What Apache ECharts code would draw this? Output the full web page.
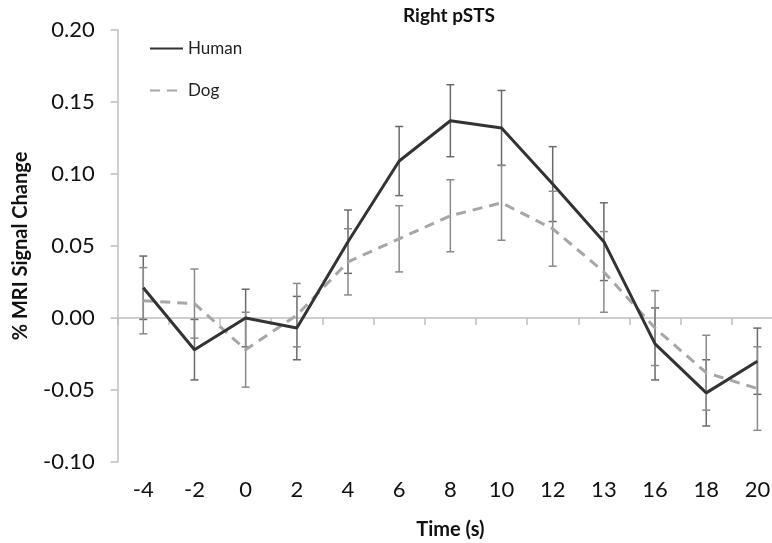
<!DOCTYPE html>
<html>
<head>
<meta charset="utf-8">
<script src="https://cdn.jsdelivr.net/npm/echarts@6/dist/echarts.min.js"></script>
<style>
html,body{margin:0;padding:0;background:#fff;}
#chart{width:772px;height:543px;}
</style>
</head>
<body>
<div id="chart"></div>
<script>
var categories = ['-4','-2','0','2','4','6','8','10','12','13','16','18','20'];
var human    = [0.021, -0.022, 0.000, -0.007, 0.053, 0.109, 0.137, 0.132, 0.093, 0.053, -0.018, -0.052, -0.030];
var humanErr = [0.022, 0.021, 0.020, 0.022, 0.022, 0.024, 0.025, 0.026, 0.026, 0.027, 0.025, 0.023, 0.023];
var dog      = [0.012, 0.010, -0.022, 0.002, 0.039, 0.055, 0.071, 0.080, 0.062, 0.032, -0.007, -0.038, -0.049];
var dogErr   = [0.023, 0.024, 0.026, 0.022, 0.023, 0.023, 0.025, 0.026, 0.026, 0.028, 0.026, 0.026, 0.029];

var FONT = 'Lato, "Open Sans", sans-serif';

function bars(vals, errs) {
  return vals.map(function (v, i) { return [i, v - errs[i], v + errs[i]]; });
}
function errRender(color) {
  return function (params, api) {
    var x = api.value(0);
    var lo = api.coord([x, api.value(1)]);
    var hi = api.coord([x, api.value(2)]);
    var w = 4;
    var st = { stroke: color, lineWidth: 1.5 };
    return {
      type: 'group',
      children: [
        { type: 'line', shape: { x1: lo[0], y1: lo[1], x2: hi[0], y2: hi[1] }, style: st },
        { type: 'line', shape: { x1: lo[0] - w, y1: lo[1], x2: lo[0] + w, y2: lo[1] }, style: st },
        { type: 'line', shape: { x1: hi[0] - w, y1: hi[1], x2: hi[0] + w, y2: hi[1] }, style: st }
      ]
    };
  };
}

var chart = echarts.init(document.getElementById('chart'));
chart.setOption({
  animation: false,
  backgroundColor: '#fff',
  title: {
    text: 'Right pSTS',
    left: 449,
    textAlign: 'center',
    top: 6,
    padding: 0,
    textStyle: { fontFamily: FONT, fontWeight: 'bold', fontSize: 19, color: '#111' }
  },
  legend: {
    orient: 'vertical',
    left: 149,
    top: 40,
    padding: 0,
    itemWidth: 33,
    itemHeight: 14,
    itemGap: 25,
    itemStyle: { opacity: 0 },
    data: ['Human', 'Dog'],
    textStyle: { fontFamily: FONT, fontSize: 17, color: '#222' }
  },
  grid: { left: 117.7, right: -11, top: 30, bottom: 81, containLabel: false, outerBoundsMode: 'none' },
  xAxis: {
    type: 'category',
    data: categories,
    boundaryGap: true,
    name: 'Time (s)',
    nameLocation: 'middle',
    nameGap: 58,
    nameTextStyle: { fontFamily: FONT, fontWeight: 'bold', fontSize: 20, color: '#111' },
    axisLine: { show: true, lineStyle: { color: '#BFBFBF', width: 1.5 } },
    axisTick: { show: true, length: 7, lineStyle: { color: '#BFBFBF', width: 1.5 } },
    axisLabel: { fontFamily: FONT, fontSize: 22, color: '#111', margin: 17, interval: 0 },
    splitLine: { show: false }
  },
  yAxis: {
    type: 'value',
    min: -0.1,
    max: 0.2,
    interval: 0.05,
    name: '% MRI Signal Change',
    nameLocation: 'middle',
    nameGap: 87,
    nameTextStyle: { fontFamily: FONT, fontWeight: 'bold', fontSize: 20, color: '#111' },
    axisLine: { show: true, lineStyle: { color: '#BFBFBF', width: 1.5 } },
    axisTick: { show: true, length: 7, lineStyle: { color: '#BFBFBF', width: 1.5 } },
    axisLabel: {
      fontFamily: FONT, fontSize: 22, color: '#111', margin: 23,
      formatter: function (v) { return v.toFixed(2); }
    },
    splitLine: { show: false }
  },
  series: [
    {
      name: 'HumanErr', type: 'custom', z: 1,
      renderItem: errRender('#6a6a6a'),
      encode: { x: 0, y: [1, 2] },
      data: bars(human, humanErr)
    },
    {
      name: 'DogErr', type: 'custom', z: 1,
      renderItem: errRender('#8a8a8a'),
      encode: { x: 0, y: [1, 2] },
      data: bars(dog, dogErr)
    },
    {
      name: 'Dog', type: 'line', z: 3,
      data: dog,
      symbol: 'none',
      color: '#A6A6A6',
      lineStyle: { color: '#A6A6A6', width: 3, type: [10, 7] }
    },
    {
      name: 'Human', type: 'line', z: 4,
      data: human,
      symbol: 'none',
      color: '#333333',
      lineStyle: { color: '#333333', width: 3 }
    }
  ]
});
</script>
</body>
</html>
